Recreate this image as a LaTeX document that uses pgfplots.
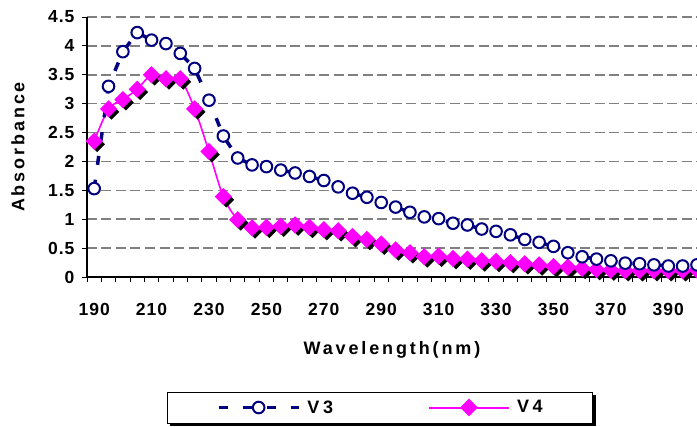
\documentclass[border=0pt]{standalone}
\usepackage{fontspec}
\setmainfont{Liberation Sans}
\usepackage{pgfplots}
\usepackage{pgfplotstable}
\pgfplotsset{compat=1.18}
\definecolor{navy}{RGB}{0,0,128}
\definecolor{mag}{RGB}{255,0,255}
\definecolor{gridgray}{RGB}{128,128,128}
\newfontfamily\tickfont[LetterSpace=6]{Liberation Sans}
\newfontfamily\labfont[LetterSpace=16]{Liberation Sans}
\newfontfamily\legfont[LetterSpace=20]{Liberation Sans}
\pgfplotsset{longleg/.style={legend image code/.code={\draw[mark repeat=2,mark phase=2,##1] plot coordinates {(0pt,0pt) (40pt,0pt) (80pt,0pt)};}}}
\pgfdeclarelayer{bg}
\pgfsetlayers{bg,main}

\pgfplotstableread{
x v3 v4
190 1.53 2.35
195 3.30 2.91
200 3.90 3.07
205 4.23 3.25
210 4.10 3.50
215 4.04 3.43
220 3.87 3.43
225 3.61 2.91
230 3.06 2.17
235 2.44 1.39
240 2.06 0.99
245 1.94 0.85
250 1.91 0.86
255 1.85 0.88
260 1.80 0.90
265 1.74 0.86
270 1.67 0.82
275 1.56 0.80
280 1.45 0.70
285 1.38 0.65
290 1.29 0.57
295 1.21 0.47
300 1.12 0.42
305 1.04 0.35
310 1.01 0.36
315 0.93 0.32
320 0.90 0.31
325 0.83 0.28
330 0.79 0.27
335 0.73 0.25
340 0.65 0.23
345 0.60 0.21
350 0.53 0.18
355 0.42 0.17
360 0.35 0.15
365 0.31 0.13
370 0.28 0.12
375 0.24 0.11
380 0.23 0.11
385 0.21 0.11
390 0.19 0.11
395 0.19 0.11
400 0.21 0.12
}\datatable

\begin{document}
\begin{tikzpicture}
\begin{axis}[
  at={(87pt,150pt)}, anchor=south west,
  scale only axis, width=610pt, height=260pt,
  xmin=187.5, xmax=400, ymin=0, ymax=4.5,
  axis x line*=bottom, axis y line*=left,
  axis line style={-, black, line width=1.6pt},
  xtick={190,210,...,390},
  minor xtick={187.5,192.5,...,397.5},
  ytick={0,0.5,...,4.5},
  tick align=outside,
  major tick length=5pt, minor tick length=5pt,
  every major x tick/.append style={draw=none},
  every tick/.append style={black, line width=0.9pt},
  /pgf/number format/assume math mode=true,
  ticklabel style={font=\tickfont\fontsize{17.5}{20}\selectfont\bfseries},
  xticklabel style={yshift=-18pt},
  yticklabel style={xshift=-4pt},
  ymajorgrids,
  major grid style={gridgray, line width=1.6pt, dash pattern=on 10pt off 4.5pt},
  xlabel={Wavelength(nm)}, ylabel={Absorbance},
  every axis x label/.style={at={(axis description cs:0.5,-0.281)}, anchor=center,
    font=\labfont\fontsize{18}{21}\selectfont\bfseries},
  every axis y label/.style={at={(axis description cs:-0.113,0.5)}, rotate=90, anchor=center,
    font=\labfont\fontsize{18}{21}\selectfont\bfseries},
  legend columns=2,
  legend style={at={(axis description cs:0.48,-0.502)}, anchor=center, name=leg,
    draw=black, fill=white, inner xsep=50pt, inner ysep=8pt,
    nodes={inner sep=0pt, font=\legfont\fontsize{18}{21}\selectfont\bfseries},
    column sep=7pt,
    /tikz/every even column/.append style={column sep=95pt}},
  legend cell align=left,
]
% V4 shadow
\addplot[forget plot, only marks, mark=square*, mark size=5.3pt,
  mark options={rotate=45, draw=black, fill=black}, xshift=3pt, yshift=-3pt]
  table[x=x, y=v4] {\datatable};
% V4
\addplot[forget plot, mag, line width=1.6pt, smooth, mark=square*, mark size=5.3pt,
  mark options={rotate=45, draw=mag, fill=mag, solid}]
  table[x=x, y=v4] {\datatable};
% V3
\addplot[navy, line width=3.5pt, dash pattern=on 9pt off 15pt,
  mark=*, mark size=5.8pt, mark options={solid, draw=navy, fill=white, line width=2pt},
  longleg]
  table[x=x, y=v3] {\datatable};
\addlegendentry{V3}
\addlegendimage{draw=mag, line width=2pt, mark=square*, mark size=5.3pt,
  mark options={rotate=45, draw=mag, fill=mag, solid}, longleg}
\addlegendentry{V4}
\end{axis}
\begin{pgfonlayer}{bg}
\fill[black] ([shift={(3pt,-3pt)}]leg.south west) rectangle ([shift={(3pt,-3pt)}]leg.north east);
\end{pgfonlayer}
\pgfresetboundingbox
\useasboundingbox (0pt,0pt) rectangle (697pt,427pt);
\end{tikzpicture}
\end{document}
